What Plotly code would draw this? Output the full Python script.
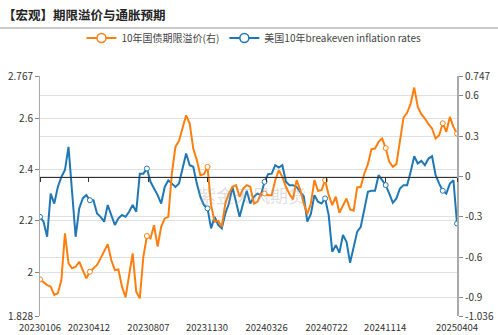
import pandas as pd
import plotly.graph_objects as go

# Weekly observations, 2023-01-06 .. 2025-04-04
dates = pd.date_range("2023-01-06", "2025-04-04", freq="7D")

# 10Y term premium (right axis, %)
term_premium = [
    -0.764, -0.788, -0.806, -0.818, -0.880, -0.868, -0.769, -0.422, -0.645, -0.682,
    -0.670, -0.633, -0.695, -0.756, -0.707, -0.682, -0.657, -0.608, -0.551, -0.502,
    -0.620, -0.695, -0.690, -0.818, -0.897, -0.732, -0.571, -0.855, -0.905, -0.596,
    -0.442, -0.460, -0.361, -0.521, -0.373, -0.311, -0.299, 0.023, 0.221, 0.265,
    0.357, 0.455, 0.394, 0.208, 0.122, 0.010, 0.018, 0.072, -0.212, -0.336,
    -0.329, -0.373, -0.200, -0.126, -0.076, -0.064, -0.150, -0.089, -0.064, -0.076,
    -0.200, -0.188, -0.126, -0.126, -0.138, -0.138, -0.027, 0.047, -0.002, -0.076,
    -0.131, -0.170, -0.027, -0.096, -0.200, -0.279, -0.200, -0.027, -0.106, -0.101,
    -0.027, -0.138, -0.212, -0.150, -0.269, -0.212, -0.163, -0.244, -0.254, -0.081,
    -0.076, 0.023, 0.092, 0.203, 0.208, 0.258, 0.282, 0.211, 0.109, 0.072,
    0.092, 0.265, 0.438, 0.473, 0.542, 0.661, 0.517, 0.463, 0.431, 0.389,
    0.357, 0.282, 0.307, 0.396, 0.332, 0.443, 0.369, 0.319,
]

# US 10Y breakeven inflation rate (left axis, %)
breakeven = [
    2.216, 2.197, 2.138, 2.307, 2.268, 2.333, 2.372, 2.399, 2.490, 2.320,
    2.138, 2.249, 2.288, 2.301, 2.281, 2.281, 2.229, 2.216, 2.197, 2.262,
    2.223, 2.184, 2.210, 2.223, 2.216, 2.236, 2.262, 2.236, 2.385, 2.385,
    2.405, 2.353, 2.327, 2.301, 2.268, 2.333, 2.359, 2.346, 2.333, 2.346,
    2.412, 2.464, 2.418, 2.412, 2.346, 2.294, 2.262, 2.249, 2.171, 2.216,
    2.184, 2.171, 2.229, 2.268, 2.333, 2.268, 2.216, 2.268, 2.318, 2.268,
    2.294, 2.307, 2.301, 2.353, 2.383, 2.385, 2.418, 2.409, 2.418, 2.353,
    2.340, 2.340, 2.333, 2.314, 2.297, 2.197, 2.227, 2.301, 2.275, 2.268,
    2.288, 2.223, 2.079, 2.105, 2.075, 2.145, 2.118, 2.036, 2.092, 2.158,
    2.177, 2.242, 2.314, 2.318, 2.318, 2.379, 2.357, 2.340, 2.307, 2.271,
    2.288, 2.327, 2.340, 2.340, 2.392, 2.453, 2.425, 2.435, 2.418, 2.444,
    2.453, 2.379, 2.346, 2.318, 2.307, 2.346, 2.359, 2.190,
]

# points that carry a hollow symbol
symbol_idx = [0, 14, 30, 47, 63, 80, 97, 113, 117]

x_ticks = ["2023-01-06", "2023-04-12", "2023-08-07", "2023-11-30",
           "2024-03-26", "2024-07-22", "2024-11-14", "2025-04-04"]
left_ticks = [1.828, 2, 2.2, 2.4, 2.6, 2.767]
right_ticks = [-1.036, -0.9, -0.6, -0.3, 0, 0.3, 0.6, 0.747]

name_tp = "10年国债期限溢价(右)"
name_be = "美国10年breakeven inflation rates"
c_tp = "#ff7f0e"
c_be = "#1f77b4"

W, H = 498, 335
ML, MR, MT, MB = 40, 41, 76, 19
plot_w = W - ML - MR
plot_h = H - MT - MB
FONT = "Noto Sans CJK SC, Noto Sans, sans-serif"

fig = go.Figure()

# data lines
fig.add_trace(go.Scatter(x=dates, y=term_premium, yaxis="y2", mode="lines",
                         line=dict(color=c_tp, width=2), showlegend=False,
                         hoverinfo="skip"))
fig.add_trace(go.Scatter(x=[dates[i] for i in symbol_idx],
                         y=[term_premium[i] for i in symbol_idx], yaxis="y2",
                         mode="markers", showlegend=False, hoverinfo="skip",
                         marker=dict(symbol="circle", size=5, color="white",
                                     line=dict(color=c_tp, width=1))))
fig.add_trace(go.Scatter(x=dates, y=breakeven, yaxis="y", mode="lines",
                         line=dict(color=c_be, width=2), showlegend=False,
                         hoverinfo="skip"))
fig.add_trace(go.Scatter(x=[dates[i] for i in symbol_idx],
                         y=[breakeven[i] for i in symbol_idx], yaxis="y",
                         mode="markers", showlegend=False, hoverinfo="skip",
                         marker=dict(symbol="circle", size=5, color="white",
                                     line=dict(color=c_be, width=1))))

# legend entries
for nm, col in [(name_tp, c_tp), (name_be, c_be)]:
    fig.add_trace(go.Scatter(x=[None], y=[None], xaxis="x2", yaxis="y2",
                             mode="lines+markers", name=nm,
                             line=dict(color=col, width=2),
                             marker=dict(symbol="circle", size=9, color="white",
                                         line=dict(color=col, width=1.5))))

zero_frac = (0 - right_ticks[0]) / (right_ticks[-1] - right_ticks[0])

axis_font = dict(family=FONT, size=10, color="#333")
x_font = dict(family=FONT, size=9.5, color="#333")
grid_c = "#e0e0e0"

fig.update_layout(
    width=W, height=H, autosize=False,
    margin=dict(l=ML, r=MR, t=MT, b=MB),
    paper_bgcolor="white", plot_bgcolor="white",
    font=dict(family=FONT),
    title=dict(text="<b>【宏观】期限溢价与通胀预期</b>",
               font=dict(family=FONT, size=12.5, color="#222"),
               xref="container", yref="container", x=0.006, y=1 - 16 / H,
               xanchor="left", yanchor="middle"),
    legend=dict(orientation="h", xref="container", yref="container",
                x=0.51, y=1 - 38 / H, xanchor="center", yanchor="middle",
                font=dict(family=FONT, size=10, color="#444"),
                bgcolor="rgba(0,0,0,0)", itemwidth=30),
    xaxis=dict(type="date", range=[dates[0], dates[-1]], tickvals=x_ticks,
               tickformat="%Y%m%d", showgrid=False, showline=False,
               zeroline=False, ticks="outside", ticklen=3,
               tickcolor="rgba(0,0,0,0)", tickfont=x_font, automargin=False),
    xaxis2=dict(type="date", overlaying="x", anchor="free", position=zero_frac,
                side="bottom", range=[dates[0], dates[-1]], tickvals=x_ticks,
                showticklabels=False, showgrid=False, zeroline=False,
                showline=True, linecolor="#333", linewidth=1,
                ticks="outside", ticklen=4, tickcolor="#333", tickwidth=1,
                automargin=False),
    yaxis=dict(range=[left_ticks[0], left_ticks[-1]], tickvals=left_ticks,
               ticktext=[f"{v:g}" for v in left_ticks], showgrid=True,
               gridcolor=grid_c, gridwidth=1, zeroline=False, showline=True,
               linecolor="#aaa", linewidth=1, ticks="outside", ticklen=4,
               tickcolor="#888", tickfont=axis_font, automargin=False),
    yaxis2=dict(range=[right_ticks[0], right_ticks[-1]], tickvals=right_ticks,
                ticktext=[f"{v:g}" for v in right_ticks], overlaying="y",
                side="right", anchor="x", showgrid=True, gridcolor=grid_c,
                gridwidth=1, zeroline=False, showline=True, linecolor="#aaa",
                linewidth=2, ticks="outside", ticklen=4, tickcolor="#888",
                tickfont=axis_font, automargin=False),
    shapes=[dict(type="line", xref="paper", yref="paper",
                 x0=-ML / plot_w, x1=(W - ML) / plot_w,
                 y0=(H - MB - 28) / plot_h, y1=(H - MB - 28) / plot_h,
                 line=dict(color="#b8b8b8", width=1.5))],
    annotations=[dict(text="紫金天风期货", xref="paper", yref="paper",
                      x=(252 - ML) / plot_w, y=(H - MB - 195) / plot_h,
                      showarrow=False,
                      font=dict(family=FONT, size=18,
                                color="rgba(160,160,160,0.35)"))],
)

fig.write_html("out.html")
